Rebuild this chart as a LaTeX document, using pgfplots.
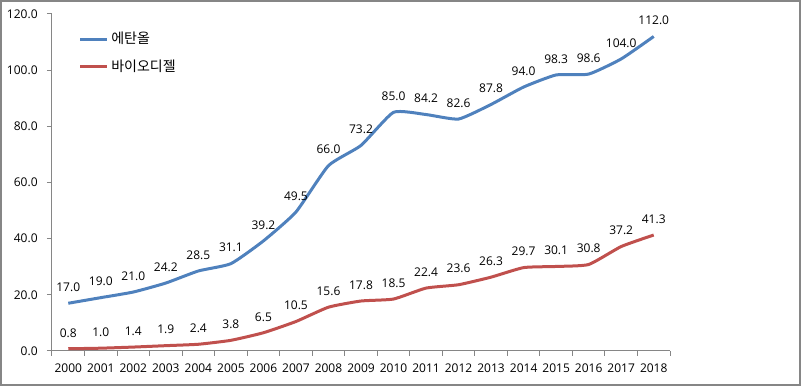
\documentclass[border=0pt]{standalone}
\usepackage{pgfplots}
\pgfplotsset{compat=1.18}
\usepackage{fontspec}
\setmainfont{Open Sans}
\newfontfamily\kr{Noto Sans CJK KR}
\definecolor{eblue}{HTML}{4F81BD}
\definecolor{bred}{HTML}{C0504D}
\definecolor{axgray}{HTML}{868686}
\begin{document}
\begin{tikzpicture}
\useasboundingbox (0pt,0pt) rectangle (600.75pt,289.5pt);
\draw[axgray,line width=1.2pt] (0.6pt,0.6pt) rectangle (600.15pt,288.9pt);
\begin{axis}[
  at={(39pt,26.25pt)}, anchor=south west,
  scale only axis, width=463.5pt, height=252.75pt,
  xmin=-0.5, xmax=18.5, ymin=0, ymax=120,
  axis x line*=bottom, axis y line*=left,
  axis line style={axgray, line width=0.75pt},
  /pgf/number format/assume math mode=true,
  font=\fontsize{9}{11}\selectfont,
  xtick={-0.5,0.5,...,18.5},
  x tick label as interval,
  xticklabels={2000,2001,2002,2003,2004,2005,2006,2007,2008,2009,2010,2011,2012,2013,2014,2015,2016,2017,2018},
  tick style={axgray, line width=0.75pt},
  ytick={0,20,...,120},
  yticklabel style={/pgf/number format/fixed, /pgf/number format/fixed zerofill, /pgf/number format/precision=1, xshift=-3.5pt},
  tick align=outside, major tick length=3.75pt,
  xticklabel style={yshift=-2pt},
  nodes near coords,
  every node near coord/.append style={text=black, font=\fontsize{9}{11}\selectfont, anchor=center, yshift=12pt, /pgf/number format/fixed, /pgf/number format/fixed zerofill, /pgf/number format/precision=1},
  legend style={draw=none, fill=none, at={(0,1)}, anchor=north west, xshift=20pt, yshift=-11.5pt, font=\kr\fontsize{10.5}{12}\selectfont, row sep=6.5pt, inner sep=0pt},
  legend cell align=left,
  legend image code/.code={\draw[#1] (0pt,0pt) -- (20pt,0pt);},
]
\addplot[eblue, line width=2.25pt, smooth, tension=0.3, mark=none] coordinates {
(0,17.0) (1,19.0) (2,21.0) (3,24.2) (4,28.5) (5,31.1) (6,39.2) (7,49.5) (8,66.0) (9,73.2) (10,85.0) (11,84.2) (12,82.6) (13,87.8) (14,94.0) (15,98.3) (16,98.6) (17,104.0) (18,112.0)};
\addlegendentry{에탄올}
\addplot[bred, line width=2.25pt, smooth, tension=0.3, mark=none] coordinates {
(0,0.8) (1,1.0) (2,1.4) (3,1.9) (4,2.4) (5,3.8) (6,6.5) (7,10.5) (8,15.6) (9,17.8) (10,18.5) (11,22.4) (12,23.6) (13,26.3) (14,29.7) (15,30.1) (16,30.8) (17,37.2) (18,41.3)};
\addlegendentry{바이오디젤}
\end{axis}
\end{tikzpicture}
\end{document}
